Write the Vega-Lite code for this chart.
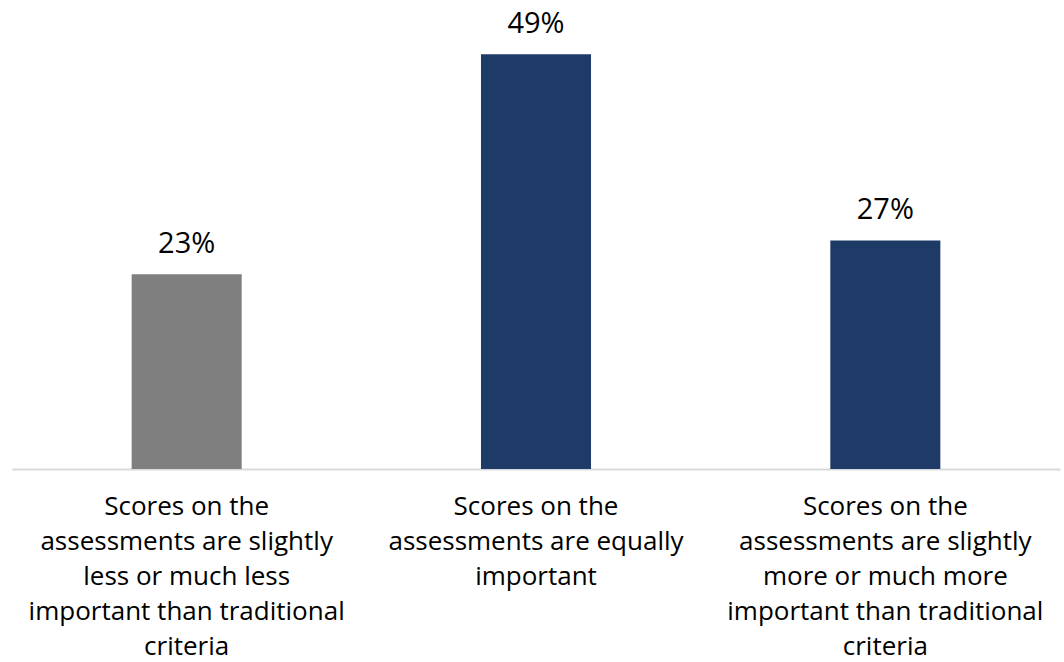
{
  "$schema": "https://vega.github.io/schema/vega-lite/v6.json",
  "autosize": "none",
  "width": 1048,
  "height": 469,
  "padding": {"left": 12, "top": 0, "right": 4, "bottom": 193},
  "background": "white",
  "data": {"values": [
    {"category": "Scores on the|assessments are slightly|less or much less|important than traditional|criteria", "value": 0.23, "group": "less"},
    {"category": "Scores on the|assessments are equally|important", "value": 0.49, "group": "equal"},
    {"category": "Scores on the|assessments are slightly|more or much more|important than traditional|criteria", "value": 0.27, "group": "more"}
  ]},
  "config": {"view": {"stroke": null}, "font": "Open Sans"},
  "encoding": {
    "x": {"field": "category", "type": "nominal", "sort": null,
      "scale": {"paddingInner": 0.685, "paddingOuter": 0.3425},
      "axis": {"title": null, "labelAngle": 0, "labelExpr": "split(datum.value, '|')",
        "labelFontSize": 26, "labelLineHeight": 35, "labelColor": "#000000", "labelPadding": 24,
        "ticks": false, "domainColor": "#d9d9d9", "domainWidth": 2, "labelLimit": 400, "labelFont": "Open Sans"}},
    "y": {"field": "value", "type": "quantitative", "scale": {"domain": [0, 0.554], "nice": false}, "axis": null}
  },
  "layer": [
    {"mark": {"type": "bar"},
     "encoding": {"color": {"field": "group", "type": "nominal", "scale": {"domain": ["less", "equal", "more"], "range": ["#7f7f7f", "#1e3a66", "#1e3a66"]}, "legend": null}}},
    {"mark": {"type": "text", "baseline": "alphabetic", "dy": -21, "fontSize": 29, "color": "#000000", "font": "Open Sans"},
     "encoding": {"text": {"field": "value", "type": "quantitative", "format": ".0%"}}}
  ]
}
